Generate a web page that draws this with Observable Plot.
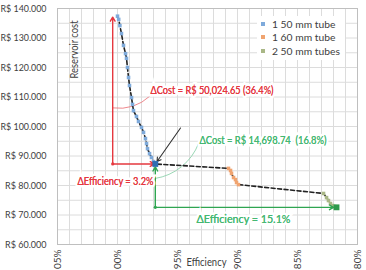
<!DOCTYPE html>
<html>
<head>
<meta charset="utf-8">
<script src="https://cdn.jsdelivr.net/npm/d3@7"></script>
<script src="https://cdn.jsdelivr.net/npm/@observablehq/plot@0.6"></script>
<style>
  html, body { margin: 0; padding: 0; background: white; }
  #wrap { position: relative; width: 366px; height: 270px; overflow: hidden; font-family: Lato, sans-serif; }
  #legend { position: absolute; left: 257px; top: 16px; width: 88px; background: white; padding: 1px 0 2px 0; }
  .row { display: flex; align-items: center; height: 13.5px; font-size: 10.3px; color: #404040; }
  .sw { width: 4px; height: 4px; margin: 0 7px 0 4px; }
</style>
</head>
<body>
<div id="wrap"></div>
<script>
// ---- data (efficiency in %, cost in R$) ----
const effBlue  = [100.0, 99.9, 99.8, 99.67, 99.5, 99.33, 99.25, 99.17, 99.08, 99.0, 98.83, 98.75, 98.67, 98.42, 98.25, 98.0, 97.83, 97.67, 97.58, 97.5, 97.33, 97.17, 97.0, 96.85];
const costBlue = [137400, 136300, 134200, 131500, 127500, 124700, 123100, 120000, 116600, 113900, 109800, 107500, 105400, 103400, 101700, 99700, 98000, 95900, 94200, 92500, 90800, 89500, 88100, 87300];
const effOrange  = [90.75, 90.58, 90.5, 90.33, 90.17, 90.08, 89.92];
const costOrange = [85800, 85100, 84100, 82700, 82000, 81000, 80300];
const effGreen  = [82.83, 82.58, 82.42, 82.25, 82.08, 81.92, 81.75];
const costGreen = [77300, 75900, 74900, 73900, 73200, 72900, 72600];

const seriesNames  = ["1 50 mm tube", "1 60 mm tube", "2 50 mm tubes"];
const seriesColors = ["#7eaadb", "#f0a470", "#a9b786"];

const xTicks = [105, 100, 95, 90, 85, 80];
const xTickLabels = ["105%", "100%", "95%", "90%", "85%", "80%"];
const yTicks = [60000, 70000, 80000, 90000, 100000, 110000, 120000, 130000, 140000];
const yTickLabels = ["R$ 60.000", "R$ 70.000", "R$ 80.000", "R$ 90.000", "R$ 100.000", "R$ 110.000", "R$ 120.000", "R$ 130.000", "R$ 140.000"];

// reference efficiency of the red bracket
const redEff = 100.4;

// annotation texts
const annoTexts = ["ΔCost = R$ 50,024.65 (36.4%)", "ΔEfficiency = 3.2%", "ΔCost = R$ 14,698.74  (16.8%)", "ΔEfficiency = 15.1%"];
const annoColors = ["#e5383f", "#e5383f", "#45b872", "#45b872"];
const annoEff  = [97.25, 103.33, 93.17, 93.42];
const annoCost = [112000, 81300, 95250, 68500];
const annoWidths = [123, 76, 127, 94];

// ---- build tables ----
const pts = [];
[[effBlue, costBlue], [effOrange, costOrange], [effGreen, costGreen]].forEach(([e, c], s) => {
  e.forEach((v, i) => pts.push({eff: v, cost: c[i], s}));
});
const blueEnd = {eff: effBlue[effBlue.length - 1], cost: costBlue[costBlue.length - 1]};
const greenEnd = {eff: effGreen[effGreen.length - 1], cost: costGreen[costGreen.length - 1]};
const redCorner = {eff: redEff, cost: blueEnd.cost};
const greenCorner = {eff: blueEnd.eff, cost: greenEnd.cost};

const redArrows = [
  {x1: redCorner.eff, y1: redCorner.cost, x2: blueEnd.eff, y2: blueEnd.cost},
  {x1: redCorner.eff, y1: redCorner.cost, x2: redEff, y2: costBlue[0]}
];
const greenArrows = [
  {x1: greenCorner.eff, y1: greenCorner.cost, x2: blueEnd.eff, y2: blueEnd.cost},
  {x1: greenCorner.eff, y1: greenCorner.cost, x2: greenEnd.eff, y2: greenEnd.cost}
];
const annos = annoTexts.map((t, i) => ({t, c: annoColors[i], eff: annoEff[i], cost: annoCost[i]}));

const plot = Plot.plot({
  width: 366,
  height: 270,
  marginTop: 8,
  marginRight: 9,
  marginBottom: 26,
  marginLeft: 57,
  style: {fontFamily: "Lato, sans-serif", fontSize: "10px", color: "#404040", background: "white", overflow: "visible"},
  x: {domain: [105, 80]},
  y: {domain: [60000, 140000]},
  marks: [
    Plot.gridX(d3.range(80, 106, 1), {stroke: "#dcdcdc", strokeOpacity: 1}),
    Plot.gridY(d3.range(60000, 140001, 5000), {stroke: "#dcdcdc", strokeOpacity: 1}),
    Plot.frame({stroke: "#bfbfbf"}),
    Plot.axisX(xTicks, {tickFormat: d => xTickLabels[xTicks.indexOf(d)], tickRotate: -90, tickSize: 0, tickPadding: 5, label: null, fontSize: 10}),
    Plot.axisY(yTicks, {tickFormat: d => yTickLabels[yTicks.indexOf(d)], tickSize: 0, tickPadding: 11, label: null, fontSize: 10}),
    // leader curves
    Plot.arrow([{x1: 97.3, y1: 110300, x2: redEff, y2: 106300}], {x1: "x1", y1: "y1", x2: "x2", y2: "y2", stroke: "#ec7b80", strokeWidth: 0.9, headLength: 0, bend: 25}),
    Plot.arrow([{x1: 93.25, y1: 94200, x2: blueEnd.eff, y2: 82400}], {x1: "x1", y1: "y1", x2: "x2", y2: "y2", stroke: "#8fd3ad", strokeWidth: 0.9, headLength: 0, bend: 30}),
    // line and points
    Plot.line(pts, {x: "eff", y: "cost", stroke: "#222", strokeWidth: 1.6, strokeDasharray: "4,2.5"}),
    Plot.dot(pts, {x: "eff", y: "cost", symbol: "square", r: 2, fill: d => seriesColors[d.s]}),
    // brackets
    Plot.arrow(redArrows, {x1: "x1", y1: "y1", x2: "x2", y2: "y2", stroke: "#e5383f", strokeWidth: 1.4, headLength: 5, insetEnd: 1}),
    Plot.arrow(greenArrows, {x1: "x1", y1: "y1", x2: "x2", y2: "y2", stroke: "#2fa551", strokeWidth: 1.4, headLength: 5, insetEnd: 3}),
    Plot.dot([redCorner], {x: "eff", y: "cost", r: 1.6, fill: "#e5383f"}),
    Plot.dot([greenCorner], {x: "eff", y: "cost", r: 1.6, fill: "#2fa551"}),
    // black pointer
    Plot.arrow([{x1: 94.75, y1: 99500, x2: blueEnd.eff, y2: blueEnd.cost}], {x1: "x1", y1: "y1", x2: "x2", y2: "y2", stroke: "#333", strokeWidth: 1.1, headLength: 6, insetEnd: 3}),
    // end markers
    Plot.dot([blueEnd], {x: "eff", y: "cost", symbol: "square", r: 3.3, fill: "#2f6eb2"}),
    Plot.dot([greenEnd], {x: "eff", y: "cost", symbol: "square", r: 3.3, fill: "#2e9a4b"}),
    // annotation texts (white backing, then coloured text)
    Plot.text(annos, {x: "eff", y: "cost", text: "t", fill: "c", textAnchor: "start", fontSize: 10.5, stroke: "white", strokeWidth: 5, strokeLinejoin: "miter"}),
    Plot.text(annos, {x: "eff", y: "cost", text: "t", fill: "c", textAnchor: "start", fontSize: 10.5}),
    // axis titles
    Plot.text(["Reservoir cost"], {frameAnchor: "top-left", dx: 13, dy: 41, rotate: -90, textAnchor: "middle", fontSize: 10.5, fill: "#404040"}),
    Plot.text(["Efficiency"], {frameAnchor: "bottom", dx: -1, dy: 21, fontSize: 10.5, fill: "#404040"})
  ]
});
document.getElementById("wrap").appendChild(plot);

// Calibri-like widths: squeeze texts horizontally to the reference's measured widths
function fit(t, w) {
  t.setAttribute("textLength", w.toFixed(1));
  t.setAttribute("lengthAdjust", "spacingAndGlyphs");
}
plot.querySelectorAll('g[aria-label="y-axis tick label"] text').forEach(t => fit(t, t.textContent.length * 4.6));
plot.querySelectorAll('text').forEach(t => {
  const i = annoTexts.indexOf(t.textContent);
  if (i >= 0) fit(t, annoWidths[i]);
  if (t.textContent === "Reservoir cost") fit(t, 58);
  if (t.textContent === "Efficiency") fit(t, 40);
});

const legend = document.createElement("div");
legend.id = "legend";
seriesNames.forEach((n, i) => {
  const r = document.createElement("div");
  r.className = "row";
  const s = document.createElement("span");
  s.className = "sw";
  s.style.background = seriesColors[i];
  r.appendChild(s);
  r.appendChild(document.createTextNode(n));
  legend.appendChild(r);
});
document.getElementById("wrap").appendChild(legend);
</script>
</body>
</html>
